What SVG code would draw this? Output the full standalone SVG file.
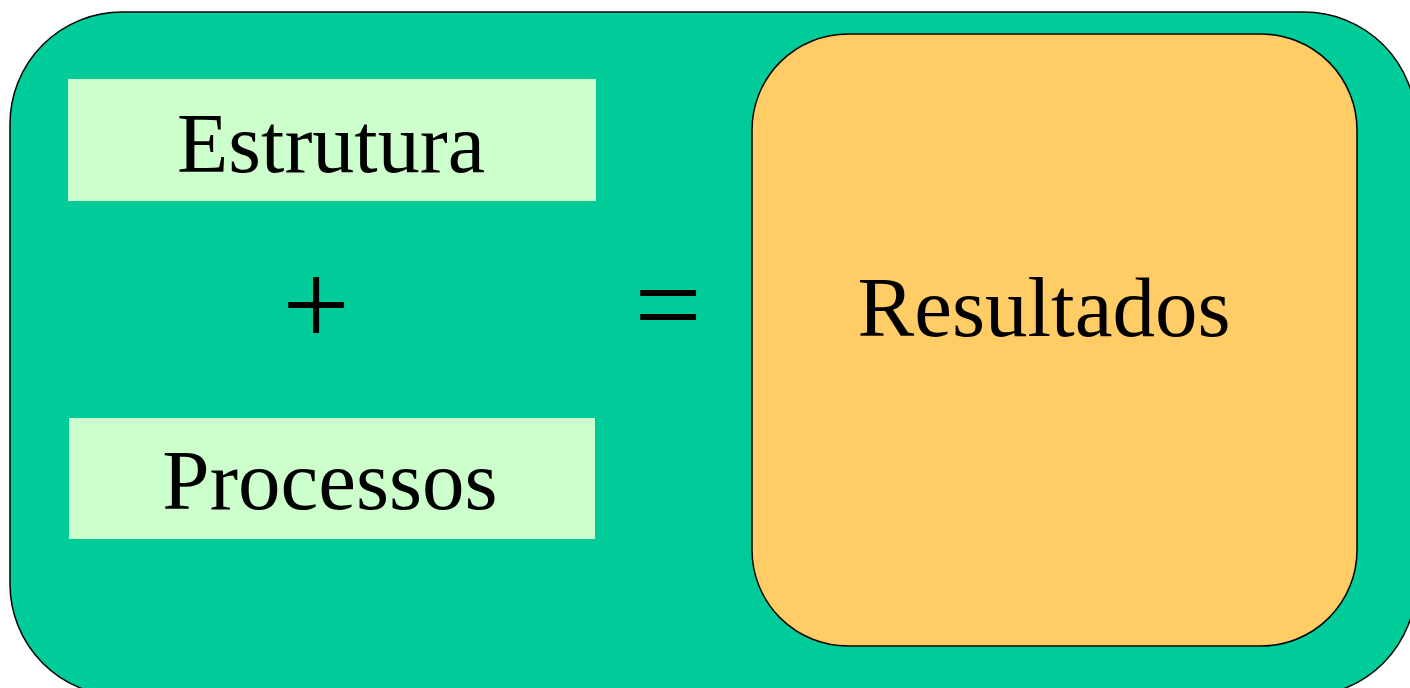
<svg xmlns="http://www.w3.org/2000/svg" width="1410" height="688" viewBox="0 0 1410 688">
<style>
.t{font-family:"Liberation Serif","Times New Roman",serif;fill:#000;text-anchor:middle}
.lbl{font-size:84px}
.lbl2{font-size:85px}
.op{font-size:120px}
</style>
<rect width="1410" height="688" fill="#fff"/>
<g id="frame">
<rect x="10" y="12" width="1406" height="684" rx="112" ry="112" fill="#00CC99" stroke="#000" stroke-width="1.5"/>
</g>
<g id="estrutura">
<rect x="68" y="79" width="528" height="122" fill="#CCFFCC"/>
<text class="t lbl" x="331" y="172">Estrutura</text>
</g>
<g id="processos">
<rect x="69" y="418" width="526" height="121" fill="#CCFFCC"/>
<text class="t lbl2" x="330" y="509">Processos</text>
</g>
<g id="plus">
<text class="t op" x="316" y="345">+</text>
</g>
<g id="equals">
<text class="t op" x="668" y="345">=</text>
</g>
<g id="resultados">
<rect x="752" y="34" width="605" height="612" rx="96" ry="96" fill="#FFCC66" stroke="#000" stroke-width="1.5"/>
<text class="t lbl2" x="1044" y="336">Resultados</text>
</g>
<g id="connectors"></g>
</svg>
